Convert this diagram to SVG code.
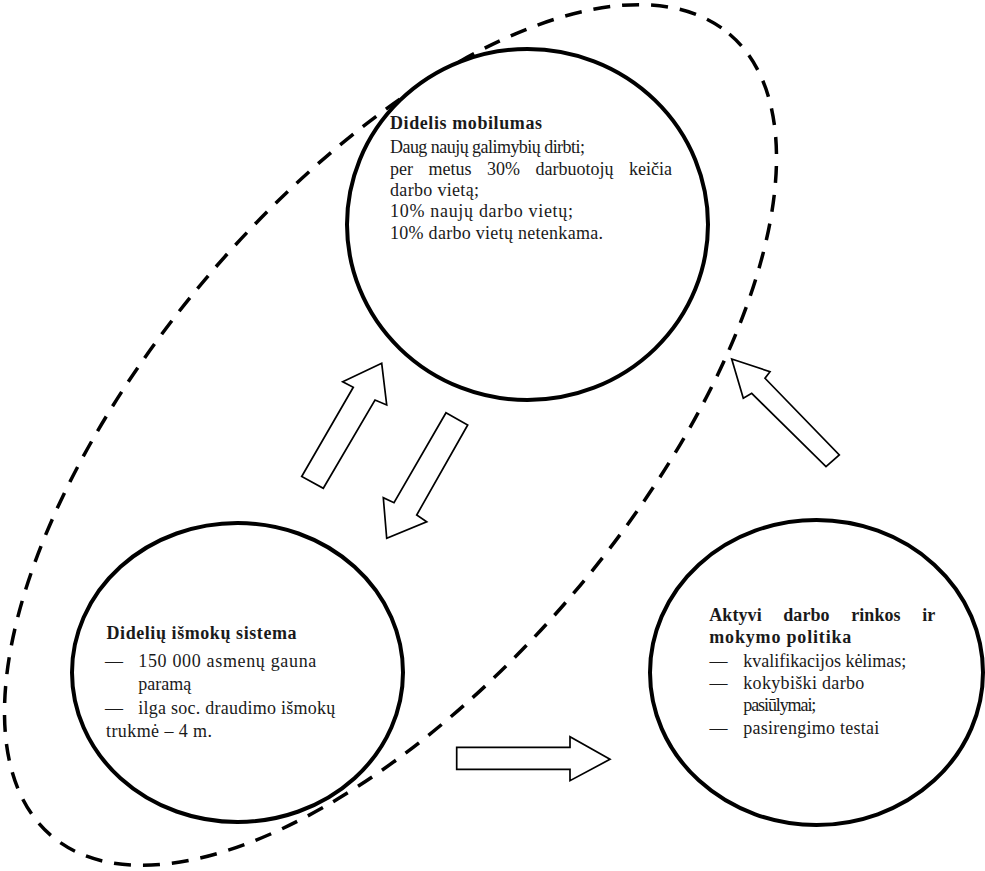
<svg xmlns="http://www.w3.org/2000/svg" width="985" height="871" viewBox="0 0 985 871">
<defs>
<style>
.bg{fill:#ffffff}
.region{fill:none;stroke:#000;stroke-width:3.5;stroke-dasharray:17 12}
.node{fill:#ffffff;stroke:#000;stroke-width:4}
.arrow{fill:#ffffff;stroke:#000;stroke-width:1.7;stroke-linejoin:miter}
text{font-family:"Liberation Serif","Times New Roman",serif;font-size:18px;fill:#1a1a1a}
.title{font-weight:bold}
</style>
</defs>
<rect class="bg" x="0" y="0" width="985" height="871"/>
<g id="region-dashed">
<ellipse class="region" cx="390.5" cy="435" rx="525" ry="242" transform="rotate(-49.8 390.5 435)"/>
</g>
<g id="node-mobilumas">
<ellipse class="node" cx="527.5" cy="224.5" rx="180.5" ry="175.5"/>
<text class="title" x="390" y="129" textLength="152" lengthAdjust="spacing">Didelis mobilumas</text>
<text x="390" y="153" textLength="195" lengthAdjust="spacing">Daug naujų galimybių dirbti;</text>
<text x="390" y="175" word-spacing="11" textLength="282" lengthAdjust="spacing">per metus 30% darbuotojų keičia</text>
<text x="390" y="196" textLength="89" lengthAdjust="spacing">darbo vietą;</text>
<text x="390" y="217.3" textLength="183" lengthAdjust="spacing">10% naujų darbo vietų;</text>
<text x="390" y="238.5" textLength="213" lengthAdjust="spacing">10% darbo vietų netenkama.</text>
</g>
<g id="node-ismoku-sistema">
<ellipse class="node" cx="237.5" cy="672.5" rx="165.5" ry="149.5"/>
<text class="title" x="106.5" y="639" textLength="190" lengthAdjust="spacing">Didelių išmokų sistema</text>
<text x="105" y="667.3">—<tspan x="138.3" textLength="178" lengthAdjust="spacing">150 000 asmenų gauna</tspan></text>
<text x="138.3" y="690">paramą</text>
<text x="105" y="714.3">—<tspan x="138.3" textLength="197" lengthAdjust="spacing">ilga soc. draudimo išmokų</tspan></text>
<text x="106" y="736.7" textLength="106" lengthAdjust="spacing">trukmė – 4 m.</text>
</g>
<g id="node-aktyvi-politika">
<ellipse class="node" cx="816.5" cy="672.5" rx="166.5" ry="152.5"/>
<text class="title" x="709.3" y="620.7" word-spacing="17" textLength="226" lengthAdjust="spacing">Aktyvi darbo rinkos ir</text>
<text class="title" x="709.3" y="643.3" textLength="142" lengthAdjust="spacing">mokymo politika</text>
<text x="709.5" y="667.3">—<tspan x="743.3" textLength="163" lengthAdjust="spacing">kvalifikacijos kėlimas;</tspan></text>
<text x="709.5" y="689">—<tspan x="743.3" textLength="121" lengthAdjust="spacing">kokybiški darbo</tspan></text>
<text x="743.3" y="710.7" textLength="73" lengthAdjust="spacing">pasiūlymai;</text>
<text x="709.5" y="734">—<tspan x="743.3" textLength="136" lengthAdjust="spacing">pasirengimo testai</tspan></text>
</g>
<g id="connectors">
<polygon id="arrow-benefits-to-mobility" class="arrow" points="301.7,476.5 353.3,387.3 342.7,381.7 381.7,363.3 386.7,405 375,400 323.3,488.3"/>
<polygon id="arrow-mobility-to-benefits" class="arrow" points="446,412.7 467.7,425 416.7,515 426.7,521.7 386.7,538.3 383.3,497.7 394,502.7"/>
<polygon id="arrow-benefits-to-active" class="arrow" points="456.7,747.3 570,747.3 570,736.7 610,759.3 570,780.7 570,769.3 456.7,769.3"/>
<polygon id="arrow-active-to-mobility" class="arrow" points="731.7,359 770,371.7 765,378.3 839.3,455 826,466.7 751.7,393.3 743.3,398.3"/>
</g>
</svg>
